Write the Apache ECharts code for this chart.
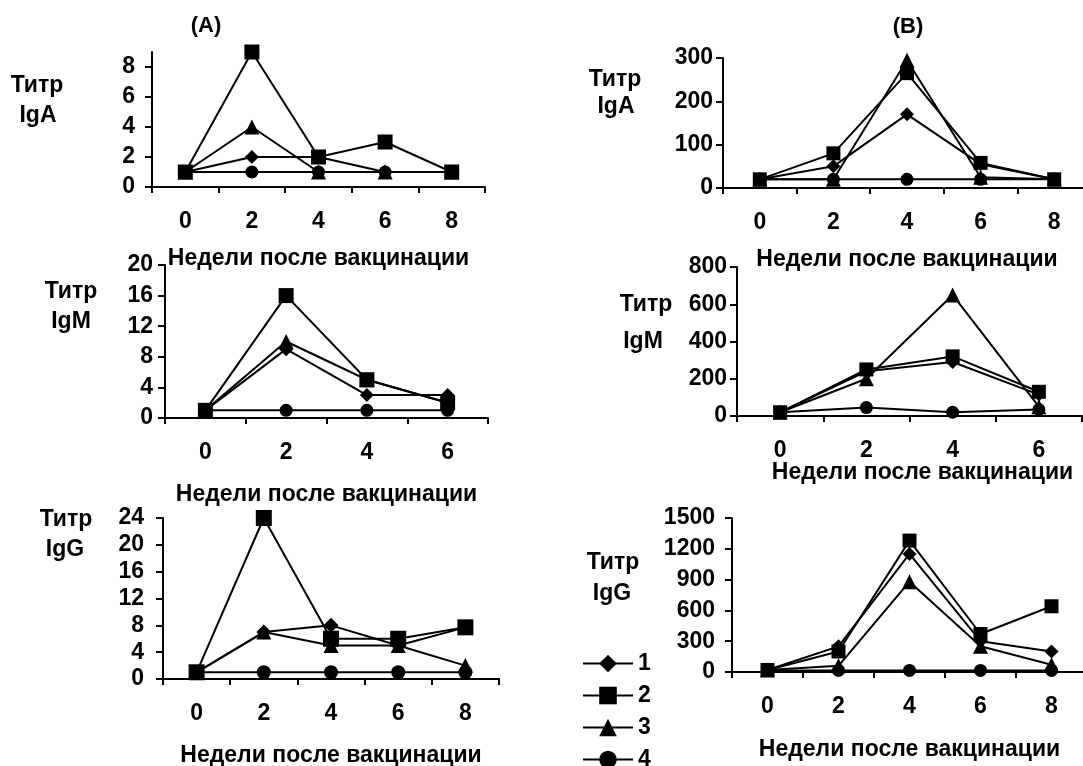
<!DOCTYPE html>
<html>
<head>
<meta charset="utf-8">
<script src="https://cdn.jsdelivr.net/npm/echarts@6/dist/echarts.min.js"></script>
<style>html,body{margin:0;padding:0;background:#fff}#c{width:1083px;height:766px}</style>
</head>
<body>
<div id="c"></div>
<script>
// ---- data ----
const weeks8 = ['0', '2', '4', '6', '8'];
const weeks6 = ['0', '2', '4', '6'];
const seriesNames = ['1', '2', '3', '4'];
const xName = 'Недели после вакцинации';

// (A) IgA
const aIgA_1 = [1, 2, 2, 1, 1];
const aIgA_2 = [1, 9, 2, 3, 1];
const aIgA_3 = [1, 4, 1, 1, 1];
const aIgA_4 = [1, 1, 1, 1, 1];
const aIgA_ticks = [0, 2, 4, 6, 8];
// (A) IgM
const aIgM_1 = [1, 9, 3, 3];
const aIgM_2 = [1, 16, 5, 2];
const aIgM_3 = [1, 10, 5, 2];
const aIgM_4 = [1, 1, 1, 1];
const aIgM_ticks = [0, 4, 8, 12, 16, 20];
// (A) IgG
const aIgG_1 = [1, 7, 8, 5, 7.7];
const aIgG_2 = [1, 24, 6, 6, 7.7];
const aIgG_3 = [1, 7, 5, 5, 2];
const aIgG_4 = [1, 1, 1, 1, 1];
const aIgG_ticks = [0, 4, 8, 12, 16, 20, 24];
// (B) IgA
const bIgA_1 = [20, 50, 170, 55, 20];
const bIgA_2 = [20, 80, 265, 58, 20];
const bIgA_3 = [20, 20, 295, 25, 20];
const bIgA_4 = [20, 20, 20, 20, 20];
const bIgA_ticks = [0, 100, 200, 300];
// (B) IgM
const bIgM_1 = [20, 240, 290, 115];
const bIgM_2 = [20, 250, 320, 130];
const bIgM_3 = [20, 200, 650, 50];
const bIgM_4 = [20, 45, 20, 35];
const bIgM_ticks = [0, 200, 400, 600, 800];
// (B) IgG
const bIgG_1 = [20, 250, 1150, 300, 200];
const bIgG_2 = [20, 200, 1280, 370, 640];
const bIgG_3 = [20, 60, 880, 250, 70];
const bIgG_4 = [15, 15, 15, 15, 15];
const bIgG_ticks = [0, 300, 600, 900, 1200, 1500];

// ---- chart ----
const FONT = 'Liberation Sans, Arial, sans-serif';
const FS = 23;
const txt = { color: '#000', fontWeight: 'bold', fontFamily: FONT, fontSize: FS };

const panels = [
  { cats: weeks8, data: [aIgA_1, aIgA_2, aIgA_3, aIgA_4], ticks: aIgA_ticks, max: 9, interval: 2,
    grid: { left: 152, top: 52, width: 333, height: 135 }, nameGap: 60, namePad: 0, yMargin: 17, sym: [14, 15, 15, 13] },
  { cats: weeks6, data: [aIgM_1, aIgM_2, aIgM_3, aIgM_4], ticks: aIgM_ticks, max: 20, interval: 4,
    grid: { left: 165, top: 265, width: 323, height: 153 }, nameGap: 65, namePad: 0, yMargin: 12, sym: [14, 15, 15, 13] },
  { cats: weeks8, data: [aIgG_1, aIgG_2, aIgG_3, aIgG_4], ticks: aIgG_ticks, max: 24, interval: 4,
    grid: { left: 163, top: 518, width: 336, height: 161 }, nameGap: 65, namePad: 0, yMargin: 19, sym: [15, 16, 15, 14] },
  { cats: weeks8, data: [bIgA_1, bIgA_2, bIgA_3, bIgA_4], ticks: bIgA_ticks, max: 300, interval: 100,
    grid: { left: 723, top: 58, width: 368, height: 130 }, nameGap: 60, namePad: 0, yMargin: 10, sym: [14, 14, 15, 13] },
  { cats: weeks6, data: [bIgM_1, bIgM_2, bIgM_3, bIgM_4], ticks: bIgM_ticks, max: 800, interval: 200,
    grid: { left: 737, top: 267, width: 345, height: 149 }, nameGap: 45, namePad: 26, yMargin: 10, sym: [14, 14, 15, 13] },
  { cats: weeks8, data: [bIgG_1, bIgG_2, bIgG_3, bIgG_4], ticks: bIgG_ticks, max: 1500, interval: 300,
    grid: { left: 732, top: 518, width: 355, height: 154 }, nameGap: 66, namePad: 0, yMargin: 17, sym: [14, 14, 15, 13] }
];

const symbols = ['diamond', 'rect', 'triangle', 'circle'];
const zOrder = [2, 5, 3, 4];

const grid = [], xAxis = [], yAxis = [], series = [];
panels.forEach((p, i) => {
  grid.push(Object.assign({ outerBoundsMode: 'none', containLabel: false }, p.grid));
  xAxis.push({
    type: 'category', gridIndex: i, data: p.cats, boundaryGap: true,
    axisLine: { show: true, lineStyle: { color: '#000', width: 2 } },
    axisTick: { show: true, length: 6, lineStyle: { color: '#000', width: 2 } },
    axisLabel: Object.assign({ margin: 23 }, txt),
    name: xName, nameLocation: 'middle', nameGap: p.nameGap, nameMoveOverlap: false,
    nameTextStyle: Object.assign({ padding: [0, 0, 0, p.namePad] }, txt),
    splitLine: { show: false }
  });
  yAxis.push({
    type: 'value', gridIndex: i, min: 0, max: p.max, interval: p.interval,
    axisLine: { show: true, lineStyle: { color: '#000', width: 2 } },
    axisTick: { show: true, length: 7, customValues: p.ticks, lineStyle: { color: '#000', width: 2 } },
    axisLabel: Object.assign({ margin: p.yMargin, customValues: p.ticks, formatter: v => String(v) }, txt),
    splitLine: { show: false }
  });
  p.data.forEach((d, k) => {
    series.push({
      type: 'line', name: seriesNames[k], xAxisIndex: i, yAxisIndex: i, data: d,
      symbol: symbols[k], symbolSize: p.sym[k], showAllSymbol: true, z: zOrder[k],
      lineStyle: { color: '#000', width: 2 }, itemStyle: { color: '#000' },
      emphasis: { disabled: true }, animation: false
    });
  });
});

const labels = [
  ['(A)', 206, 26, 22], ['(B)', 908, 27, 22],
  ['Титр', 37, 86, FS], ['IgA', 38, 116, FS],
  ['Титр', 615, 80, FS], ['IgA', 616, 107, FS],
  ['Титр', 71, 292, FS], ['IgM', 71, 322, FS],
  ['Титр', 646, 305, FS], ['IgM', 643, 342, FS],
  ['Титр', 66, 520, FS], ['IgG', 65, 550, FS],
  ['Титр', 613, 563, FS], ['IgG', 612, 594, FS]
];

const option = {
  backgroundColor: '#fff',
  animation: false,
  grid, xAxis, yAxis, series,
  legend: {
    data: seriesNames, orient: 'vertical', left: 582, top: 652, height: 200, width: 120,
    padding: 0, itemWidth: 50, itemHeight: 22, itemGap: 9,
    textStyle: Object.assign({ lineHeight: 20, padding: [0, 0, 0, 0] }, txt),
    selectedMode: false
  },
  graphic: labels.map(l => ({
    type: 'text', x: l[1], y: l[2],
    style: { text: l[0], align: 'center', verticalAlign: 'middle', fill: '#000',
      font: 'bold ' + l[3] + 'px ' + FONT }
  }))
};

const chart = echarts.init(document.getElementById('c'), null, { renderer: 'canvas' });
chart.setOption(option);
</script>
</body>
</html>
